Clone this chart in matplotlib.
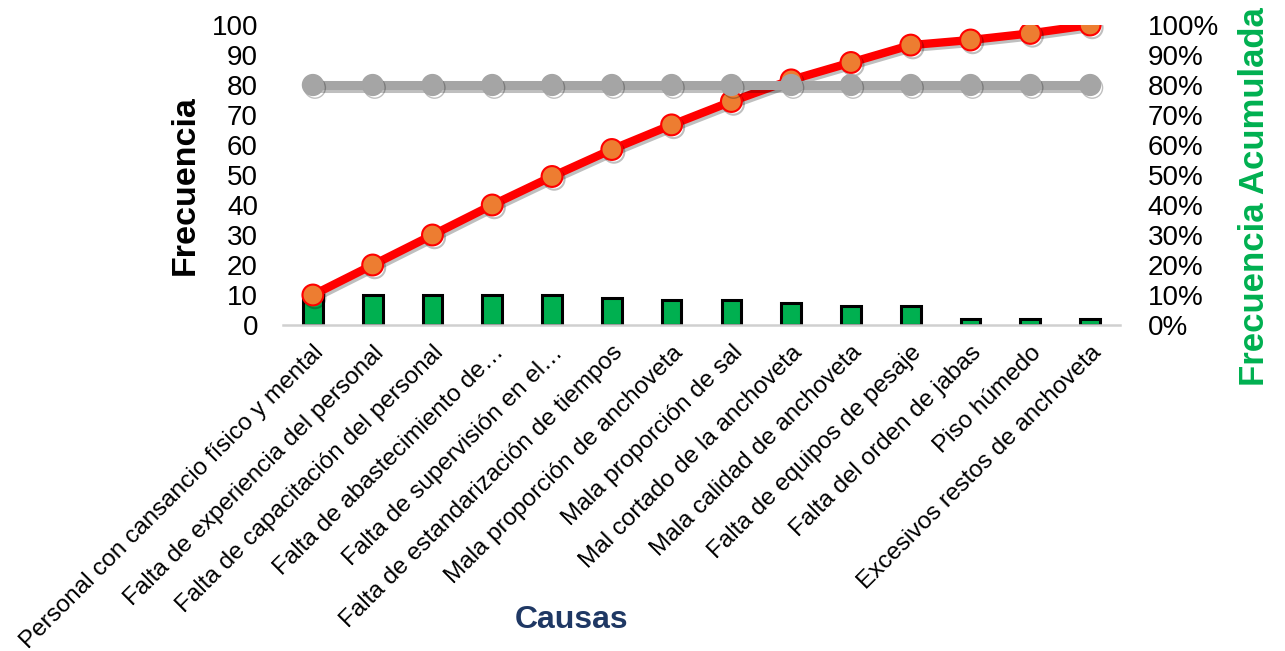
import matplotlib
matplotlib.use("Agg")
import matplotlib.pyplot as plt
import matplotlib.patheffects as pe
import numpy as np

plt.rcParams['font.family'] = ['Liberation Sans', 'DejaVu Sans']

causas = [
    "Personal con cansancio físico y mental",
    "Falta de experiencia del personal",
    "Falta de capacitación del personal",
    "Falta de abastecimiento de…",
    "Falta de supervisión en el…",
    "Falta de estandarización de tiempos",
    "Mala proporción de anchoveta",
    "Mala proporción de sal",
    "Mal cortado de la anchoveta",
    "Mala calidad de anchoveta",
    "Falta de equipos de pesaje",
    "Falta del orden de jabas",
    "Piso húmedo",
    "Excesivos restos de anchoveta",
]
frecuencia = [10, 10, 10, 10, 10, 9, 8.5, 8.5, 7.5, 6.5, 6.5, 2, 2, 2]
acumulada_pct = [10, 20, 30, 40, 49.5, 58.5, 66.7, 74.5, 81.7, 87.5, 93.3, 95, 97.2, 100]
linea_80 = [80] * 14
left_ticks = list(range(0, 101, 10))
right_ticks = list(range(0, 101, 10))

W, H = 1285, 651
fig = plt.figure(figsize=(W / 100, H / 100), dpi=100)
ax = fig.add_axes([283 / W, 1 - 325 / H, (1120 - 283) / W, 300 / H])

x = np.arange(len(causas))
ax.bar(x, frecuencia, width=0.33, color='#00B050', edgecolor='black', linewidth=2.2, zorder=2)
ax.set_xlim(-0.5, len(causas) - 0.5)
ax.set_ylim(0, 100)
ax.set_yticks(left_ticks)
ax.set_yticklabels([str(t) for t in left_ticks], fontsize=20)
ax.tick_params(axis='y', length=0, pad=18)
ax.set_xticks(x)
ax.set_xticklabels(causas, rotation=45, ha='right', rotation_mode='anchor', fontsize=17.5)
ax.tick_params(axis='x', length=0, pad=12)
for s in ['top', 'left', 'right']:
    ax.spines[s].set_visible(False)
ax.spines['bottom'].set_color('#D0D0D0')
ax.spines['bottom'].set_linewidth(1.8)
ax.patch.set_visible(False)

ax2 = ax.twinx()
ax2.set_ylim(0, 100)
shadow = [pe.SimpleLineShadow(offset=(1.5, -2), alpha=0.25, shadow_color='black'), pe.Normal()]
ax2.plot(x, acumulada_pct, color='#FF0000', linewidth=6, marker='o', markersize=15,
         markerfacecolor='#ED7D31', markeredgecolor='#FF0000', markeredgewidth=1.5,
         zorder=3, path_effects=shadow)
ax2.plot(x, linea_80, color='#A5A5A5', linewidth=6.5, marker='o', markersize=15,
         markerfacecolor='#A5A5A5', markeredgecolor='#A5A5A5',
         zorder=4, path_effects=shadow)
ax2.set_yticks(right_ticks)
ax2.set_yticklabels([f"{t}%" for t in right_ticks], fontsize=20)
ax2.tick_params(axis='y', length=0, pad=20)
for s in ['top', 'left', 'right', 'bottom']:
    ax2.spines[s].set_visible(False)
ax.set_zorder(1)
ax2.set_zorder(2)

fig.text(185 / W, 1 - 185 / H, "Frecuencia", rotation=90, fontsize=24.5, fontweight='bold',
         ha='center', va='center', color='black')
fig.text(1255 / W, 1 - 197 / H, "Frecuencia Acumulada", rotation=90, fontsize=25,
         fontweight='bold', ha='center', va='center', color='#00B050')
fig.text(572 / W, 1 - 620 / H, "Causas", fontsize=23, fontweight='bold',
         ha='center', va='center', color='#1F3864')

fig.savefig("out.png", dpi=100)
